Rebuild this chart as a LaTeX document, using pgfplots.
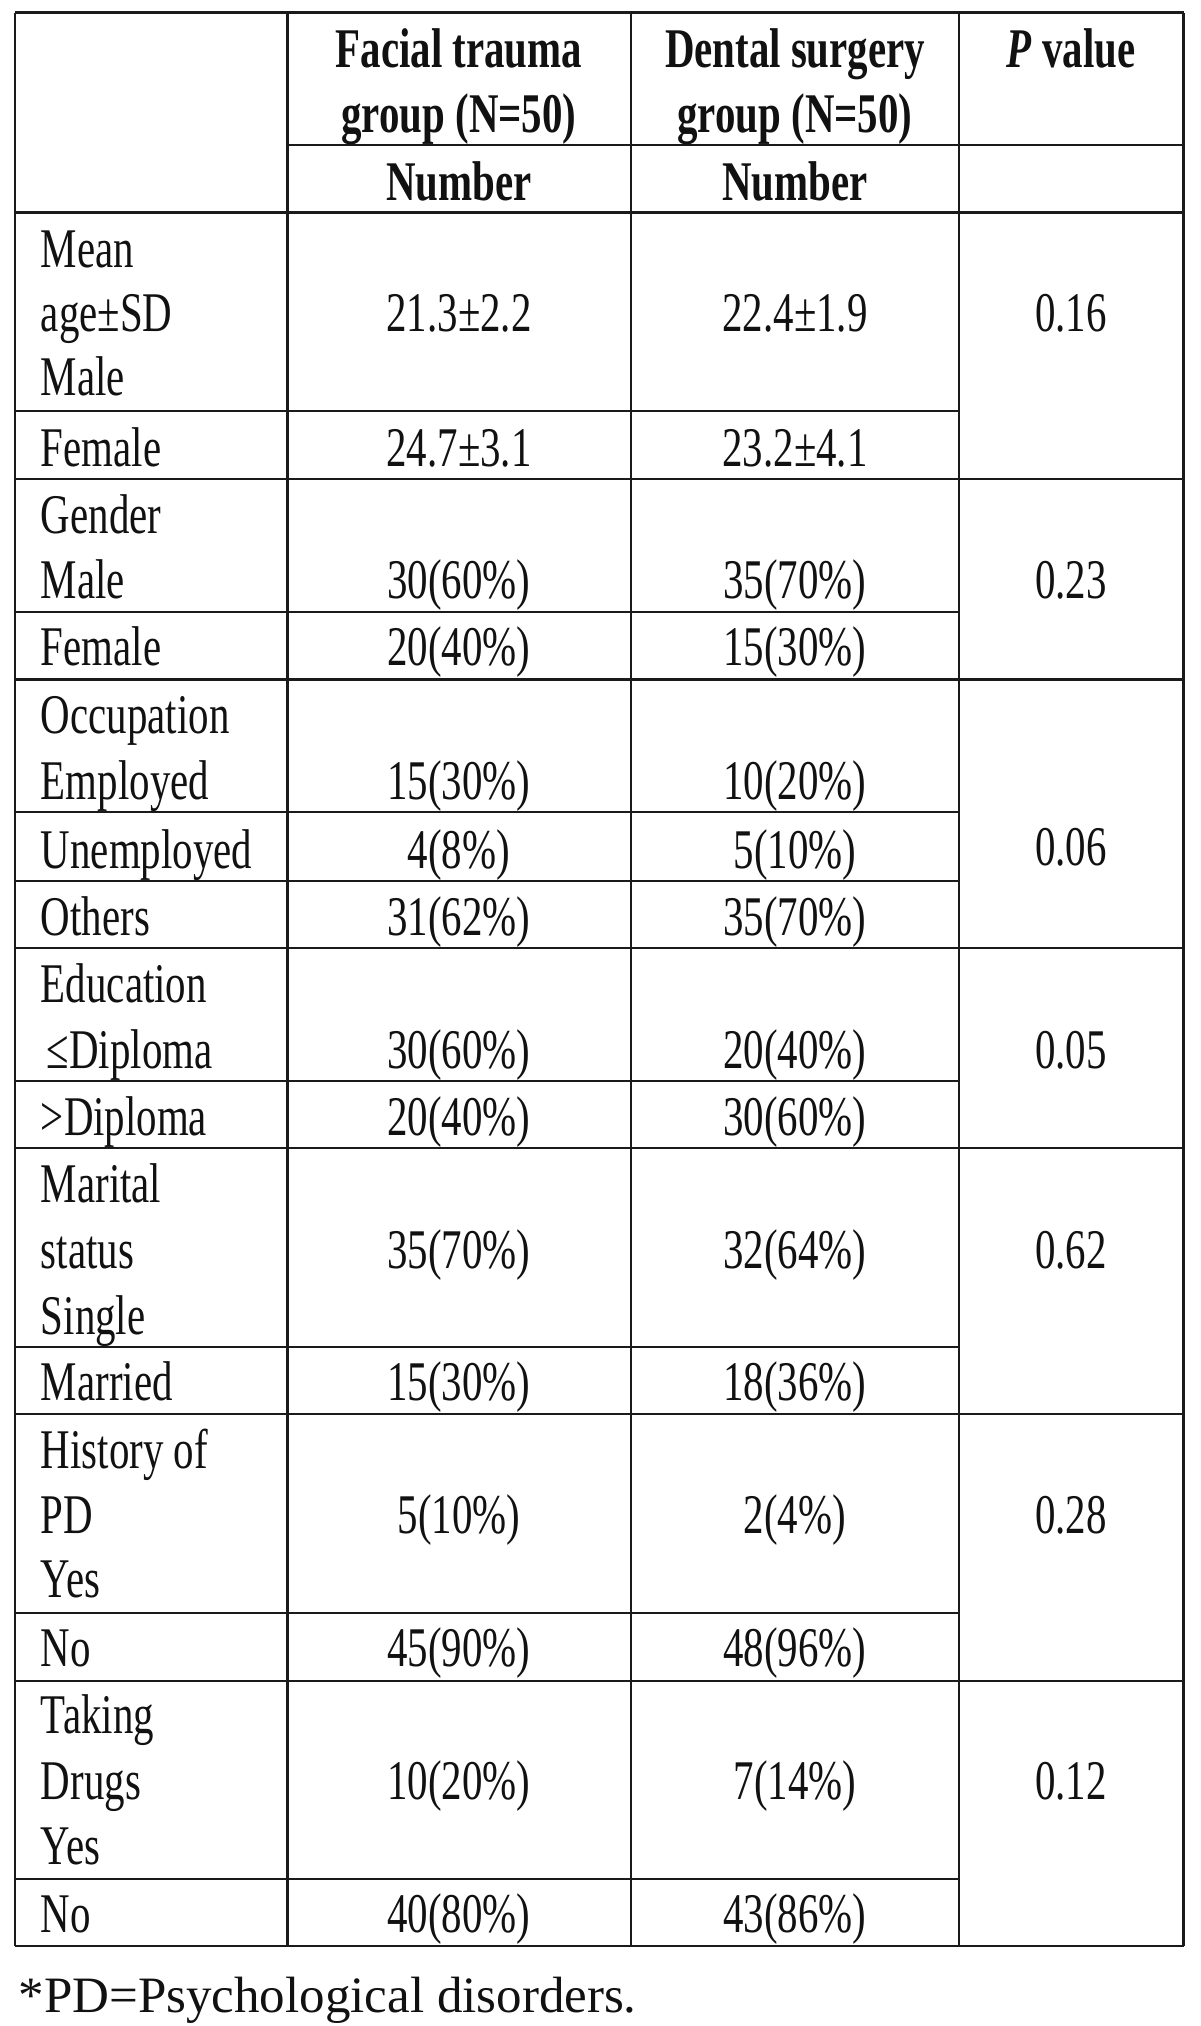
\documentclass[border=0pt]{standalone}
\usepackage{pgfplots}
\pgfplotsset{compat=1.18}
\usepackage{fontspec}
\setmainfont{Liberation Serif}[FakeStretch=0.73]
\newfontfamily\footfont{Liberation Serif}
\definecolor{ln}{HTML}{1A1A1A}
\definecolor{tx}{HTML}{111111}
\tikzset{
  c/.style={anchor=base, text=tx, inner sep=0pt, outer sep=0pt, font=\fontsize{16.8}{20}\selectfont},
  l/.style={anchor=base west, text=tx, inner sep=0pt, outer sep=0pt, font=\fontsize{16.8}{20}\selectfont},
  h/.style={anchor=base, text=tx, inner sep=0pt, outer sep=0pt, font=\fontsize{16.8}{20}\selectfont\bfseries},
}
\begin{document}
\begin{tikzpicture}
\begin{axis}[
  width=360pt, height=607.8pt, scale only axis,
  xmin=0, xmax=1200, ymin=0, ymax=2026, y dir=reverse,
  hide axis, clip=false,
]
% bounding frame
\addplot[draw=none] coordinates {(0,0) (1200,2026)};
% vertical lines
\addplot[ln, line width=0.85pt] coordinates {(15,12.5) (15,1946)};
\addplot[ln, line width=0.85pt] coordinates {(287.7,12.5) (287.7,1946)};
\addplot[ln, line width=0.85pt] coordinates {(631,12.5) (631,1946)};
\addplot[ln, line width=0.85pt] coordinates {(959,12.5) (959,1946)};
\addplot[ln, line width=0.85pt] coordinates {(1183.5,12.5) (1183.5,1946)};
% full horizontal lines
\addplot[ln, line width=0.85pt] coordinates {(15,12.5) (1183.5,12.5)};
\addplot[ln, line width=0.85pt] coordinates {(15,212.5) (1183.5,212.5)};
\addplot[ln, line width=0.85pt] coordinates {(15,479) (1183.5,479)};
\addplot[ln, line width=0.85pt] coordinates {(15,679.5) (1183.5,679.5)};
\addplot[ln, line width=0.85pt] coordinates {(15,948) (1183.5,948)};
\addplot[ln, line width=0.85pt] coordinates {(15,1148) (1183.5,1148)};
\addplot[ln, line width=0.85pt] coordinates {(15,1414) (1183.5,1414)};
\addplot[ln, line width=0.85pt] coordinates {(15,1681) (1183.5,1681)};
\addplot[ln, line width=0.85pt] coordinates {(15,1946) (1183.5,1946)};
% partial lines
\addplot[ln, line width=0.85pt] coordinates {(287.7,145) (1183.5,145)};
\addplot[ln, line width=0.85pt] coordinates {(15,411) (959,411)};
\addplot[ln, line width=0.85pt] coordinates {(15,612) (959,612)};
\addplot[ln, line width=0.85pt] coordinates {(15,812) (959,812)};
\addplot[ln, line width=0.85pt] coordinates {(15,881) (959,881)};
\addplot[ln, line width=0.85pt] coordinates {(15,1081) (959,1081)};
\addplot[ln, line width=0.85pt] coordinates {(15,1347) (959,1347)};
\addplot[ln, line width=0.85pt] coordinates {(15,1613) (959,1613)};
\addplot[ln, line width=0.85pt] coordinates {(15,1879) (959,1879)};
% header
\node[h] at (axis cs:459,67) {Facial trauma};
\node[h] at (axis cs:459,132) {group (N=50)};
\node[h] at (axis cs:795,67) {Dental surgery};
\node[h] at (axis cs:795,132) {group (N=50)};
\node[h] at (axis cs:1071,67) {\itshape P\/\upshape\ value};
\node[h] at (axis cs:459,200) {Number};
\node[h] at (axis cs:795,200) {Number};
% first column
\node[l] at (axis cs:41,267) {Mean};
\node[l] at (axis cs:41,331) {age±SD};
\node[l] at (axis cs:41,395) {Male};
\node[l] at (axis cs:41,466) {Female};
\node[l] at (axis cs:41,533) {Gender};
\node[l] at (axis cs:41,598) {Male};
\node[l] at (axis cs:41,665) {Female};
\node[l] at (axis cs:41,733) {Occupation};
\node[l] at (axis cs:41,799) {Employed};
\node[l] at (axis cs:41,868) {Unemployed};
\node[l] at (axis cs:41,935) {Others};
\node[l] at (axis cs:41,1002) {Education};
\node[l] at (axis cs:47,1068) {≤Diploma};
\node[l] at (axis cs:41,1135) {>Diploma};
\node[l] at (axis cs:41,1202) {Marital};
\node[l] at (axis cs:41,1268) {status};
\node[l] at (axis cs:41,1334) {Single};
\node[l] at (axis cs:41,1400) {Married};
\node[l] at (axis cs:41,1468) {History of};
\node[l] at (axis cs:41,1533) {PD};
\node[l] at (axis cs:41,1597) {Yes};
\node[l] at (axis cs:41,1666) {No};
\node[l] at (axis cs:41,1733) {Taking};
\node[l] at (axis cs:41,1799) {Drugs};
\node[l] at (axis cs:41,1864) {Yes};
\node[l] at (axis cs:41,1932) {No};
% facial trauma column
\node[c] at (axis cs:459,331) {21.3±2.2};
\node[c] at (axis cs:459,466) {24.7±3.1};
\node[c] at (axis cs:459,598) {30(60\%)};
\node[c] at (axis cs:459,665) {20(40\%)};
\node[c] at (axis cs:459,799) {15(30\%)};
\node[c] at (axis cs:459,868) {4(8\%)};
\node[c] at (axis cs:459,935) {31(62\%)};
\node[c] at (axis cs:459,1068) {30(60\%)};
\node[c] at (axis cs:459,1135) {20(40\%)};
\node[c] at (axis cs:459,1268) {35(70\%)};
\node[c] at (axis cs:459,1400) {15(30\%)};
\node[c] at (axis cs:459,1533) {5(10\%)};
\node[c] at (axis cs:459,1666) {45(90\%)};
\node[c] at (axis cs:459,1799) {10(20\%)};
\node[c] at (axis cs:459,1932) {40(80\%)};
% dental surgery column
\node[c] at (axis cs:795,331) {22.4±1.9};
\node[c] at (axis cs:795,466) {23.2±4.1};
\node[c] at (axis cs:795,598) {35(70\%)};
\node[c] at (axis cs:795,665) {15(30\%)};
\node[c] at (axis cs:795,799) {10(20\%)};
\node[c] at (axis cs:795,868) {5(10\%)};
\node[c] at (axis cs:795,935) {35(70\%)};
\node[c] at (axis cs:795,1068) {20(40\%)};
\node[c] at (axis cs:795,1135) {30(60\%)};
\node[c] at (axis cs:795,1268) {32(64\%)};
\node[c] at (axis cs:795,1400) {18(36\%)};
\node[c] at (axis cs:795,1533) {2(4\%)};
\node[c] at (axis cs:795,1666) {48(96\%)};
\node[c] at (axis cs:795,1799) {7(14\%)};
\node[c] at (axis cs:795,1932) {43(86\%)};
% p values
\node[c] at (axis cs:1071,331) {0.16};
\node[c] at (axis cs:1071,598) {0.23};
\node[c] at (axis cs:1071,865) {0.06};
\node[c] at (axis cs:1071,1068) {0.05};
\node[c] at (axis cs:1071,1268) {0.62};
\node[c] at (axis cs:1071,1533) {0.28};
\node[c] at (axis cs:1071,1799) {0.12};
% footnote
\node[anchor=base west, text=tx, inner sep=0pt, font=\footfont\fontsize{15.3}{18}\selectfont] at (axis cs:18,2012) {*PD=Psychological disorders.};
\end{axis}
\end{tikzpicture}
\end{document}
